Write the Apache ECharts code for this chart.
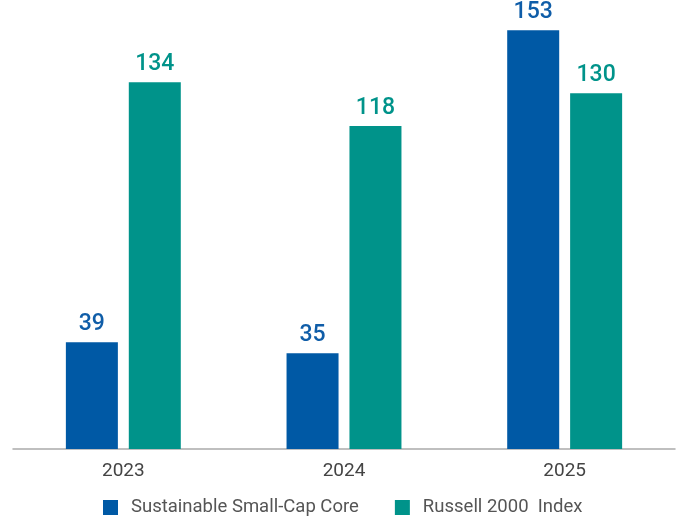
<!DOCTYPE html>
<html><head><meta charset="utf-8">
<script src="https://cdn.jsdelivr.net/npm/echarts@6/dist/echarts.min.js"></script>
<style>html,body{margin:0;padding:0;background:#fff}#c{width:683px;height:520px}</style>
</head><body><div id="c"></div>
<script>
const categories = ['2023', '2024', '2025'];
const seriesNames = ['Sustainable Small-Cap Core', 'Russell 2000  Index'];
const sustainable = [39, 35, 153];
const russell = [134, 118, 130];
const colors = ['#0059A5', '#00938A'];
const font = 'Roboto, "Liberation Sans", sans-serif';

const chart = echarts.init(document.getElementById('c'));
chart.setOption({
  animation: false,
  grid: { left: 13, right: 8, top: 11, bottom: 71, containLabel: false },
  legend: {
    left: 103, top: 498, padding: 0,
    itemWidth: 15, itemHeight: 15, itemGap: 36,
    icon: 'rect',
    textStyle: { fontFamily: font, fontSize: 18.5, color: '#555', padding: [0, 0, 0, 8] },
    data: seriesNames
  },
  xAxis: {
    type: 'category', data: categories,
    axisLine: { lineStyle: { color: '#aaa', width: 1.5 } },
    axisTick: { show: false },
    axisLabel: { fontFamily: font, fontSize: 19, color: '#444', margin: 13 }
  },
  yAxis: { type: 'value', min: 0, max: 160, show: false, splitLine: { show: false } },
  series: [
    { name: seriesNames[0], type: 'bar', data: sustainable, barWidth: 52, barGap: '21%',
      itemStyle: { color: colors[0] },
      label: { show: true, position: 'top', distance: 6, fontFamily: font, fontSize: 23, fontWeight: 500, color: '#0F5DA8' } },
    { name: seriesNames[1], type: 'bar', data: russell, barWidth: 52,
      itemStyle: { color: colors[1] },
      label: { show: true, position: 'top', distance: 6, fontFamily: font, fontSize: 23, fontWeight: 500, color: '#00938A' } }
  ]
});
</script></body></html>
